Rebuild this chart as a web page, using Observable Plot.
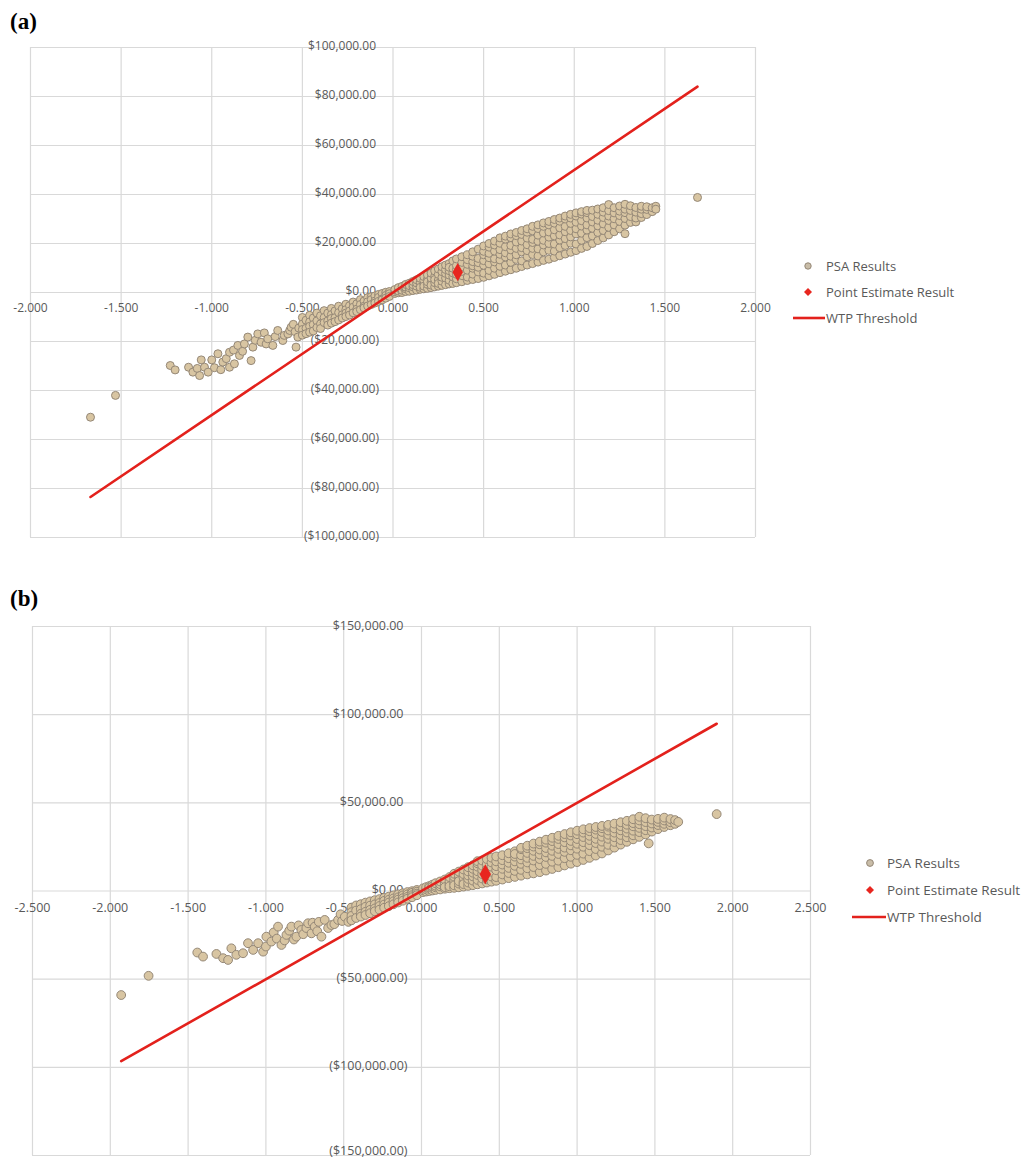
<!DOCTYPE html>
<html><head><meta charset="utf-8">
<script src="https://cdn.jsdelivr.net/npm/d3@7"></script>
<script src="https://cdn.jsdelivr.net/npm/@observablehq/plot@0.6"></script>
<style>
body{margin:0;background:#fff;}
#wrap{position:relative;width:1031px;height:1159px;overflow:hidden;background:#fff;}
#wrap > svg{position:absolute;}
</style></head>
<body><div id="wrap"></div>
<script>
// ---------- DATA ----------
const xTicksA = [-2, -1.5, -1, -0.5, 0, 0.5, 1, 1.5, 2];
const yTicksA = [-100000, -80000, -60000, -40000, -20000, 0, 20000, 40000, 60000, 80000, 100000];
const xTicksB = [-2.5, -2, -1.5, -1, -0.5, 0, 0.5, 1, 1.5, 2, 2.5];
const yTicksB = [-150000, -100000, -50000, 0, 50000, 100000, 150000];

const legendLabels = ["PSA Results", "Point Estimate Result", "WTP Threshold"];

// Panel (a): incremental QALY vs incremental cost ($)
const psaA_tail = [[-1.669,-50900],[-1.531,-42000],[-1.229,-29800],[-1.202,-31600],[-1.128,-30500],[-1.104,-32500],[-1.080,-31000],[-1.067,-33900],[-1.058,-27500],[-1.040,-30500],[-1.020,-32500],[-1.000,-27500],[-0.985,-30700],[-0.966,-25000],[-0.950,-31500],[-0.939,-28400],[-0.920,-27000],[-0.902,-24400],[-0.902,-30500],[-0.880,-23500],[-0.875,-29100],[-0.856,-21600],[-0.847,-25700],[-0.830,-24000],[-0.820,-21000],[-0.801,-18200],[-0.783,-27800],[-0.773,-22300],[-0.760,-19500],[-0.746,-16900],[-0.728,-20300],[-0.710,-16500],[-0.700,-21000],[-0.691,-18900],[-0.663,-21600],[-0.650,-18000],[-0.636,-15500],[-0.608,-19600],[-0.600,-17500],[-0.580,-16900],[-0.570,-15500],[-0.562,-14200],[-0.550,-13000],[-0.540,-16000],[-0.535,-22300],[-0.525,-18200],[-0.520,-14500]];
const psaA_band = [
 [-0.50,[-10200,-12900,-15100,-17400]],[-0.48,[-11300,-14600,-16800]],[-0.46,[-9300,-12000,-13800,-16200]],[-0.44,[-10400,-13100,-15700]],
 [-0.42,[-8400,-11600,-14300]],[-0.40,[-9500,-12800,-14700]],[-0.38,[-7400,-10200,-12300]],[-0.36,[-8400,-11600,-13300]],
 [-0.34,[-6500,-9000,-10600,-12500]],[-0.32,[-7500,-10300,-11900]],[-0.30,[-5600,-8200,-11200]],[-0.28,[-6600,-9100,-10400]],
 [-0.26,[-4800,-7000,-8400,-9800]],[-0.24,[-5400,-7600,-9200]],[-0.22,[-3900,-6000,-8300]],[-0.20,[-4600,-6800,-7800]],
 [-0.18,[-2900,-4900,-7000]],[-0.16,[-3500,-5600,-6300]],[-0.14,[-2100,-3800,-5500]],[-0.12,[-1700,-2900,-4900]],
 [-0.10,[-1400,-3500,-4300]],[-0.08,[-800,-2000,-3600]],[-0.06,[-400,-2600,-3000]],[-0.04,[100,-1200,-2300]],[-0.02,[400,-500,-1600]],
 [0.01,[-400,300,1200]],[0.03,[-100,1400,600,2000]],[0.05,[0,900,2500]],[0.07,[400,1500,2200,3300]],
 [0.09,[500,1900,3800,2800]],[0.11,[800,2300,3200,4500]],[0.13,[1000,2600,3900,5200]],
 [0.15,[1300,3000,4200,5800,2100]],[0.17,[1500,3500,4900,6500,2600]],[0.19,[1700,3300,5400,7200,4400]],
 [0.21,[2000,4100,5900,7900,3000]],[0.23,[2300,4000,6600,8800,5300]],[0.25,[2600,5100,7400,9600,3700]],
 [0.27,[2900,4600,6200,8500,10500]],[0.29,[3200,5900,7800,9400,11200]],[0.31,[3500,5000,7100,8900,11800,10300]],
 [0.33,[3700,6400,8000,9900,12900]],[0.35,[4000,5600,7400,9300,11000,13700]],[0.38,[4400,6900,8600,10400,12300,14600]],
 [0.41,[4900,6300,9100,11500,13400,15400]],[0.44,[5300,7500,9900,10900,12600,14800,16600]],
 [0.47,[5700,8400,10300,12200,13900,17700]],[0.50,[6200,7900,11100,13000,15400,16800,19000]],
 [0.53,[6800,9000,11700,14200,16000,18500,20000]],[0.56,[7400,9900,12500,13800,16900,19400,21000]],
 [0.59,[8100,10700,13300,15600,17500,20100,22300]],[0.62,[8700,11200,14500,16200,18700,21800,23000]],
 [0.65,[9300,12300,14800,17400,19200,22400,23900]],[0.68,[9900,13500,15400,18000,20600,23200,24500]],
 [0.71,[10600,12900,16600,18300,21000,23700,25300]],[0.74,[11200,14600,17100,19500,22200,24600,26000]],
 [0.77,[11800,15500,18000,20400,21700,25200,27000]],[0.80,[12400,14900,17800,20900,23400,26100,27600]],
 [0.83,[13100,16600,19400,21300,24300,27000,28400]],[0.86,[13600,17200,20000,22600,24700,27600,29000]],
 [0.89,[14300,16900,19800,23100,25600,28300,29800]],[0.92,[15000,18300,21400,23500,26400,29100,30400]],
 [0.95,[15700,19200,22000,24800,27000,30000,31200]],[0.98,[16400,20100,22700,25300,28200,30400,31900]],
 [1.01,[17100,19800,23900,26000,28700,31200,32500]],[1.04,[18000,21300,24200,27100,29300,32000,33000]],
 [1.07,[18800,22400,25500,27600,30400,32600,33500]],[1.10,[20000,23100,26200,28800,31000,33600]],
 [1.13,[21200,24500,27200,29500,31900,34100]],[1.16,[22300,25300,28000,30600,32800,34600]],
 [1.19,[23500,26600,29400,31200,33400,35900]],[1.22,[24800,27600,30100,32500,34600]],
 [1.25,[26000,29000,31400,33200,35300]],[1.28,[24000,27500,30200,32600,34000,36000]],
 [1.31,[28600,31000,33500,35400]],[1.34,[28800,30400,32800,34700]],[1.37,[30600,32200,34000,35200]],
 [1.40,[31800,33900,35000]],[1.43,[33000,34600]],[1.45,[35200,34000]],[1.68,[38800]]
];
const pointA = [0.357, 8300];
const wtpA = [[-1.669, -83450], [1.68, 84000]];

// Panel (b)
const psaB_tail = [[-1.930,-59000],[-1.754,-48100],[-1.441,-34900],[-1.404,-37200],[-1.318,-35700],[-1.275,-38100],[-1.243,-39100],[-1.222,-32500],[-1.190,-36200],[-1.147,-35300],[-1.115,-29600],[-1.082,-33400],[-1.050,-29600],[-1.018,-34400],[-1.000,-31500],[-0.997,-25900],[-0.965,-28700],[-0.950,-23500],[-0.930,-27000],[-0.922,-20200],[-0.900,-30600],[-0.880,-28000],[-0.868,-24900],[-0.850,-22500],[-0.836,-20200],[-0.820,-27500],[-0.804,-25900],[-0.790,-19500],[-0.772,-22100],[-0.760,-24500],[-0.740,-21000],[-0.729,-18300],[-0.707,-24000],[-0.700,-18000],[-0.686,-20200],[-0.670,-22800],[-0.660,-17500],[-0.643,-25900],[-0.622,-16400],[-0.600,-21000],[-0.579,-19300],[-0.560,-18800],[-0.536,-16400],[-0.520,-13200],[-0.510,-17000],[-0.493,-14600],[-0.470,-17500],[-0.450,-16400],[-0.429,-12600],[-0.386,-11700]];
const psaB_band = [
 [-0.45,[-9400,-12000,-14100,-16600]],[-0.42,[-8200,-11100,-15300]],[-0.39,[-7500,-10300,-12900,-14500]],[-0.36,[-6600,-9000,-11800,-13600]],
 [-0.33,[-5900,-8300,-10700,-12600]],[-0.30,[-5200,-7600,-9900,-11500]],[-0.27,[-4600,-6800,-8500,-10600]],[-0.24,[-3900,-5600,-7700,-9500]],
 [-0.21,[-3200,-5000,-6600,-8600]],[-0.18,[-2500,-4200,-5800,-7500]],[-0.15,[-1900,-3600,-4900,-6500]],[-0.12,[-1300,-2500,-4100,-5500]],
 [-0.09,[-600,-1900,-3300,-4400]],[-0.06,[-100,-1000,-2400,-3500]],[-0.03,[600,-400,-1500,-2400]],
 [0.01,[-600,400,1500]],[0.03,[-300,900,2200]],[0.05,[0,1200,2800,2000]],[0.07,[300,1700,3600,2600]],
 [0.09,[600,2100,3000,4400]],[0.12,[900,2600,3900,5400]],[0.15,[1300,3100,4400,6500,2200]],
 [0.18,[1600,3900,5500,7900,2700]],[0.21,[1800,4400,6300,8100,9800,3200]],[0.24,[2100,4200,6900,8900,11000,5600]],
 [0.27,[2500,5100,7700,9600,12200,3900]],[0.30,[2900,4800,6900,8800,11100,13500]],[0.33,[3300,5900,8300,10400,12600,14600]],
 [0.36,[3800,6300,9100,11200,13800,15700,16900]],[0.39,[4300,7100,9600,12000,14400,17300]],
 [0.42,[4800,6600,10500,12900,15300,18100]],[0.45,[5300,8200,10900,13800,16200,18900]],
 [0.48,[5800,7900,11800,14100,16800,19600]],[0.52,[6500,9400,12600,15000,17500,20300]],
 [0.56,[7300,10200,13100,16000,18600,21400]],[0.60,[8000,11400,14300,16800,19500,22500,21000]],
 [0.64,[8700,12000,15400,17900,20300,23700,24500]],[0.68,[9400,12900,16200,18800,21600,24300,25700]],
 [0.72,[10000,13600,17300,19900,22800,25200,26900]],[0.76,[10700,14700,18100,20700,23500,26500,28000]],
 [0.80,[11600,15400,19300,21900,24400,27400,29100]],[0.84,[12500,16600,19900,22800,25700,28300,30200]],
 [0.88,[13500,17200,21000,23900,26600,29500,31300]],[0.92,[14500,18600,22200,24600,27700,30400,32300]],
 [0.96,[15500,19400,23100,25900,28400,31500,33300]],[1.00,[16400,20500,24000,26800,29500,32200,34200]],
 [1.04,[17600,21200,25100,27700,30600,33100,35000]],[1.08,[18800,22600,26000,28900,31300,33900,35700]],
 [1.12,[20100,23800,27200,29600,32400,34800,36300]],[1.16,[21300,25100,28000,30800,33500,35600,36900]],
 [1.20,[23000,26200,29600,31900,34300,36500,37500]],[1.24,[24600,27800,30500,33100,35500,38200]],
 [1.28,[26300,28900,31800,34400,36800,39000]],[1.32,[27900,30500,33200,35400,37600,39800]],
 [1.36,[29300,31600,34200,36700,38500,40700]],[1.40,[30700,33400,35800,37900,40000,42100]],
 [1.44,[32100,34500,36800,39100,41300]],[1.46,[27000]],[1.48,[33700,36000,38300,40500]],
 [1.52,[35100,37400,39200,40900]],[1.56,[36300,38100,40000,41600]],[1.60,[37300,39000,40800]],
 [1.63,[38100,40200]],[1.65,[39200]],[1.897,[43600]]
];
const pointB = [0.41, 9500];
const wtpB = [[-1.93, -96500], [1.897, 94850]];

// ---------- DRAWING ----------
const flat = (tail, band) => tail.concat(band.flatMap(([x, ys]) => ys.map(y => [x, y])));
const fmtX = v => d3.format(".3f")(v).replace("\u2212", "-");
const fmtY = v => v < 0 ? "(" + d3.format("$,.2f")(-v) + ")" : d3.format("$,.2f")(v);

function chart(o) {
  const yMin = o.yDomain[0];
  return Plot.plot({
    width: o.width, height: o.height,
    marginLeft: o.ml, marginRight: o.mr, marginTop: o.mt, marginBottom: o.mb,
    x: {domain: o.xDomain, axis: null},
    y: {domain: o.yDomain, axis: null},
    style: {fontFamily: '"Open Sans", sans-serif', fontSize: o.fs + "px", overflow: "visible", background: "transparent"},
    marks: [
      Plot.ruleX(o.xTicks, {x: d => d, stroke: "#d9d9d9", strokeWidth: 1.2}),
      Plot.ruleY(o.yTicks, {y: d => d, stroke: "#d9d9d9", strokeWidth: 1.2}),
      Plot.text(o.xTicks, {x: d => d, y: 0, dy: o.dyX, text: d => fmtX(d), fill: "#595959"}),
      Plot.text(o.yTicks.filter(v => v >= 0), {x: 0, y: d => d, dx: o.dxPos, dy: -1, text: d => fmtY(d), textAnchor: "end", fill: "#595959"}),
      Plot.text(o.yTicks.filter(v => v < 0 && v > yMin), {x: 0, y: d => d, dx: o.dxNeg, dy: -1, text: d => fmtY(d), textAnchor: "end", fill: "#595959"}),
      Plot.text([yMin], {x: 0, y: d => d, dx: o.dxNeg, dy: o.dyMin, text: d => fmtY(d), textAnchor: "end", fill: "#595959"}),
      Plot.dot(o.psa, {x: d => d[0], y: d => d[1], r: o.r, fill: "#d8c5a2", stroke: "#958877", strokeWidth: 1}),
      Plot.line(o.wtp, {x: d => d[0], y: d => d[1], stroke: "#e3211c", strokeWidth: 2.6}),
      Plot.dot([o.point], {x: d => d[0], y: d => d[1], symbol: "diamond", r: o.rd, fill: "#e8261f"})
    ]
  });
}

const wrap = document.getElementById("wrap");

const svgA = chart({
  width: 780, height: 560, ml: 30, mr: 25, mt: 47, mb: 23,
  xDomain: [-2, 2], yDomain: [-100000, 100000],
  xTicks: xTicksA, yTicks: yTicksA, fs: 12, dyX: 16, dxPos: -17, dxNeg: -14, dyMin: -1,
  psa: flat(psaA_tail, psaA_band), wtp: wtpA, point: pointA, r: 4, rd: 5.5
});
svgA.style.left = "0px"; svgA.style.top = "0px";
wrap.appendChild(svgA);

const svgB = chart({
  width: 830, height: 579, ml: 32, mr: 20, mt: 46, mb: 4,
  xDomain: [-2.5, 2.5], yDomain: [-150000, 150000],
  xTicks: xTicksB, yTicks: yTicksB, fs: 12.5, dyX: 17, dxPos: -18, dxNeg: -14, dyMin: -5,
  psa: flat(psaB_tail, psaB_band), wtp: wtpB, point: pointB, r: 4.4, rd: 6
});
svgB.style.left = "0px"; svgB.style.top = "580px";
wrap.appendChild(svgB);

// ---------- OVERLAY: panel labels and legends ----------
const ov = d3.create("svg").attr("width", 1031).attr("height", 1159)
  .style("left", "0px").style("top", "0px").style("pointer-events", "none");

ov.append("text").attr("x", 10).attr("y", 29).text("(a)")
  .attr("font-family", '"Liberation Serif", "DejaVu Serif", serif').attr("font-weight", "bold").attr("font-size", 23).attr("fill", "#000");
ov.append("text").attr("x", 10).attr("y", 606).text("(b)")
  .attr("font-family", '"Liberation Serif", "DejaVu Serif", serif').attr("font-weight", "bold").attr("font-size", 23).attr("fill", "#000");

function legend(g, mx, tx, rows, lx0, lx1, fs, rr) {
  g.append("circle").attr("cx", mx).attr("cy", rows[0]).attr("r", rr).attr("fill", "#c9bda8").attr("stroke", "#958877").attr("stroke-width", 1);
  g.append("path").attr("d", `M${mx},${rows[1]-4}L${mx+4},${rows[1]}L${mx},${rows[1]+4}L${mx-4},${rows[1]}Z`).attr("fill", "#e8261f");
  g.append("line").attr("x1", lx0).attr("x2", lx1).attr("y1", rows[2]).attr("y2", rows[2]).attr("stroke", "#e3211c").attr("stroke-width", 2.6);
  legendLabels.forEach((t, i) => {
    g.append("text").attr("x", tx).attr("y", rows[i]).attr("dy", "0.35em").text(t)
      .attr("font-family", '"Open Sans", sans-serif').attr("font-size", fs).attr("fill", "#595959");
  });
}
legend(ov.append("g"), 808, 826, [266, 292, 318], 793, 825, 13, 3.2);
legend(ov.append("g"), 870, 887, [863, 890, 917], 852, 886, 13.5, 3.4);

wrap.appendChild(ov.node());
</script>
</body></html>
